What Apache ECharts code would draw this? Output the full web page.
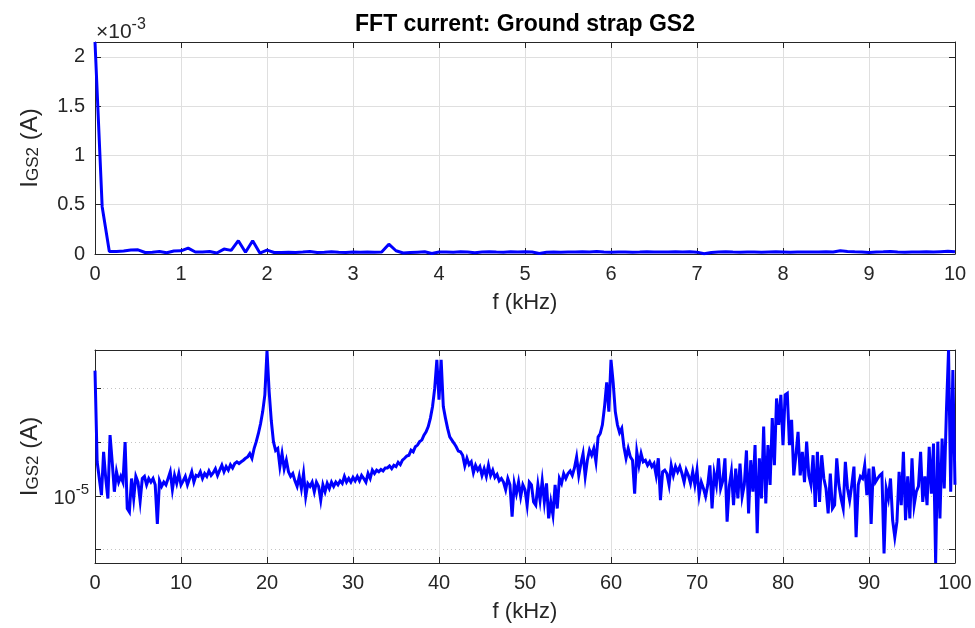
<!DOCTYPE html>
<html><head><meta charset="utf-8">
<script src="https://cdn.jsdelivr.net/npm/echarts@6/dist/echarts.min.js"></script>
<style>html,body{margin:0;padding:0;background:#fff}#c{width:975px;height:628px}</style>
</head><body><div id="c"></div>
<script>
// ---- data ----
const chartTitle = 'FFT current: Ground strap GS2';
const topStepKHz = 1 / 12;
const topCurrent = [
 2.15e-3,4.8e-4,2.5e-5,2.5e-5,3.0e-5,4.0e-5,4.2e-5,1.5e-5,1.8e-5,2.5e-5,
 1.3e-5,3.0e-5,3.2e-5,6.0e-5,2.0e-5,2.0e-5,2.5e-5,1.0e-5,5.0e-5,3.7e-5,
 1.35e-4,1.7e-5,1.35e-4,1.0e-5,4.0e-5,1.5e-5,1.6e-5,1.8e-5,1.5e-5,2.0e-5,
 2.6e-5,1.6e-5,1.8e-5,2.2e-5,1.8e-5,1.6e-5,2.0e-5,1.8e-5,2.0e-5,1.8e-5,
 2.0e-5,1.0e-4,3.3e-5,1.0e-5,1.4e-5,1.8e-5,2.2e-5,5.0e-6,2.0e-5,2.1e-5,
 1.9e-5,2.2e-5,2.0e-5,1.2e-5,2.0e-5,2.4e-5,2.1e-5,1.9e-5,2.2e-5,2.0e-5,
 2.2e-5,2.0e-5,6.0e-6,1.8e-5,2.0e-5,1.9e-5,2.1e-5,2.0e-5,2.2e-5,2.0e-5,
 2.6e-5,2.0e-5,1.8e-5,2.0e-5,2.1e-5,1.9e-5,2.0e-5,2.2e-5,2.0e-5,2.1e-5,
 2.0e-5,2.3e-5,2.0e-5,2.2e-5,1.9e-5,2.0e-6,1.6e-5,2.1e-5,2.3e-5,2.0e-5,
 1.9e-5,2.1e-5,2.0e-5,1.8e-5,2.0e-5,2.2e-5,2.0e-5,1.8e-5,2.1e-5,2.0e-5,
 2.1e-5,2.0e-5,2.2e-5,2.0e-5,3.3e-5,2.5e-5,2.2e-5,2.0e-5,1.6e-5,2.0e-5,
 2.2e-5,2.5e-5,2.0e-5,1.8e-5,2.1e-5,2.0e-5,2.2e-5,2.0e-5,2.4e-5,2.8e-5,
 2.2e-5
];
const bottomStepKHz = 0.25;
const bottomCurrent = [
 2.15e-3,4.3e-5,2.1e-5,1.03e-5,6.6e-5,2.1e-5,8.9e-6,1.35e-4,4.3e-5,1.19e-5,
 2.8e-5,1.8e-5,2.3e-5,1.8e-5,1.0e-4,5.8e-6,5.0e-6,2.1e-5,8.9e-6,2.3e-5,
 1.8e-5,8.0e-6,2.1e-5,2.3e-5,1.6e-5,2.1e-5,1.8e-5,2.1e-5,1.6e-5,3.0e-6,
 1.9e-5,1.5e-5,1.8e-5,1.6e-5,2.1e-5,2.8e-5,1.3e-5,2.4e-5,1.7e-5,2.6e-5,
 1.6e-5,
 1.9e-5,2.3e-5,1.6e-5,2.1e-5,2.8e-5,1.8e-5,2.4e-5,2.3e-5,2.8e-5,2.1e-5,
 2.6e-5,2.3e-5,2.9e-5,2.4e-5,2.7e-5,3.2e-5,2.4e-5,3.0e-5,3.7e-5,2.8e-5,
 3.5e-5,3.0e-5,3.8e-5,3.3e-5,4.0e-5,4.3e-5,4.0e-5,4.3e-5,4.6e-5,5.0e-5,
 5.3e-5,6.1e-5,5.0e-5,7.6e-5,1.02e-4,1.45e-4,2.2e-4,3.7e-4,7.6e-4,5.0e-3,
 8.7e-4,2.5e-4,1.02e-4,7.0e-5,7.6e-5,3.5e-5,6.1e-5,3.2e-5,4.6e-5,2.8e-5,
 2.3e-5,2.6e-5,1.9e-5,1.5e-5,2.3e-5,1.37e-5,2.6e-5,9.7e-6,1.7e-5,1.5e-5,
 1.8e-5,1.19e-5,1.8e-5,1.5e-5,8.3e-6,1.6e-5,1.19e-5,1.7e-5,1.37e-5,1.8e-5,
 1.5e-5,1.8e-5,1.6e-5,1.9e-5,1.7e-5,2.3e-5,1.8e-5,2.1e-5,1.8e-5,2.2e-5,
 1.9e-5,2.3e-5,1.9e-5,2.4e-5,2.1e-5,1.8e-5,2.6e-5,2.1e-5,3.0e-5,2.6e-5,
 3.0e-5,2.8e-5,3.1e-5,2.9e-5,3.3e-5,3.3e-5,3.6e-5,3.2e-5,3.7e-5,3.5e-5,
 4.2e-5,3.8e-5,4.6e-5,5.0e-5,5.5e-5,5.7e-5,7.1e-5,6.6e-5,8.2e-5,8.8e-5,
 1.02e-4,1.09e-4,1.35e-4,1.55e-4,1.95e-4,2.8e-4,4.6e-4,1.0e-3,3.4e-3,6.2e-4,
 3.4e-3,4.6e-4,2.8e-4,1.8e-4,1.25e-4,1.09e-4,9.5e-5,8.2e-5,6.8e-5,6.6e-5,
 5.7e-5,3.6e-5,5.0e-5,3.8e-5,4.3e-5,2.7e-5,3.7e-5,3.0e-5,3.5e-5,2.4e-5,
 3.2e-5,2.3e-5,3.7e-5,2.4e-5,3.0e-5,2.2e-5,2.5e-5,1.9e-5,2.1e-5,1.8e-5,
 1.3e-5,2.1e-5,1.6e-5,4.1e-6,1.7e-5,1.1e-5,1.8e-5,9.7e-6,1.6e-5,1.3e-5,
 6.7e-6,1.8e-5,1.6e-5,7.7e-6,6.7e-6,1.6e-5,8.3e-6,1.9e-5,7.7e-6,1.7e-5,
 3.8e-6,7.7e-6,4.4e-6,1.6e-5,5.8e-6,2.1e-5,1.7e-5,2.6e-5,2.1e-5,2.6e-5,
 2.9e-5,2.4e-5,3.3e-5,5.3e-5,2.4e-5,4.0e-5,6.1e-5,2.3e-5,4.6e-5,7.1e-5,
 5.7e-5,7.6e-5,4.3e-5,1.25e-4,1.45e-4,2.1e-4,4.6e-4,1.3e-3,3.7e-4,3.4e-3,
 1.3e-3,3.7e-4,2.1e-4,1.5e-4,1.8e-4,8.2e-5,5.0e-5,7.6e-5,5.3e-5,4.6e-5,
 1.1e-5,6.6e-5,3.7e-5,6.1e-5,4.3e-5,4.6e-5,3.7e-5,4.3e-5,3.5e-5,4.0e-5,
 2.4e-5,5.0e-5,8.3e-6,2.8e-5,3.0e-5,2.6e-5,1.6e-5,3.7e-5,2.4e-5,3.5e-5,
 2.8e-5,3.5e-5,2.6e-5,1.8e-5,3.0e-5,2.4e-5,1.7e-5,2.8e-5,1.6e-5,3.0e-5,
 1.03e-5,1.8e-5,1.37e-5,9.7e-6,1.6e-5,3.7e-5,5.8e-6,2.6e-5,1.6e-5,5.0e-5,
 1.37e-5,1.9e-5,5.0e-5,3.3e-6,1.5e-5,2.8e-5,6.7e-6,3.2e-5,8.9e-6,4.0e-5,
 9.7e-6,1.6e-5,7.0e-5,4.7e-6,4.6e-5,1.19e-5,8.8e-5,2.0e-6,5.0e-5,8.9e-6,
 1.95e-4,7.2e-6,8.8e-5,1.6e-5,2.8e-4,3.7e-5,6.5e-4,2.1e-4,7.6e-4,8.8e-5,
 7.6e-4,8.1e-4,8.8e-5,2.6e-4,2.4e-5,5.7e-5,1.55e-4,2.4e-5,6.6e-5,1.8e-5,
 1.02e-4,2.4e-5,1.6e-5,5.7e-5,6.2e-6,6.6e-5,7.7e-6,5.7e-5,2.1e-5,1.37e-5,
 4.7e-6,2.6e-5,5.8e-6,6.7e-6,5.0e-5,1.6e-5,8.9e-6,5.8e-6,4.3e-5,1.37e-5,
 8.3e-6,1.6e-5,3.5e-5,1.7e-6,1.6e-5,2.3e-5,2.1e-5,3.7e-5,1.03e-5,3.2e-5,
 3.0e-6,3.5e-5,1.8e-5,2.1e-5,2.4e-5,2.6e-5,8.4e-7,1.37e-5,8.9e-6,2.1e-5,
 3.5e-6,1.7e-6,3.3e-6,2.8e-5,6.7e-6,6.6e-5,3.5e-6,2.3e-5,3.8e-6,5.0e-5,
 6.7e-6,1.19e-5,1.5e-5,6.6e-5,7.7e-6,2.3e-5,6.7e-6,8.2e-5,1.1e-5,9.4e-5,
 5.6e-7,1.02e-4,3.8e-6,1.17e-4,1.37e-5,3.7e-4,5.2e-3,1.19e-5,2.2e-3,1.6e-5
];
const topXRange = [0, 10];
const bottomXRange = [0, 100];
const topYRange = [0, 2.15e-3];
const bottomYRange = [5.6e-7, 5.2e-3];
const majorLogTick = 1e-5;

// ---- chart ----
const FONT = "'Liberation Sans', Arial, sans-serif";
const AX = '#262626';
const GRIDC = '#dfdfdf';
const LINE_W = 3;
const chart = echarts.init(document.getElementById('c'), null, {renderer: 'canvas'});

function xAxisMain(gi, range, interval) {
  return {
    type: 'value', gridIndex: gi, min: range[0], max: range[1], interval: interval,
    position: 'bottom',
    axisLine: {show: true, onZero: false, lineStyle: {color: AX, width: 1}},
    axisTick: {show: true, inside: true, length: 6, lineStyle: {color: AX, width: 1}},
    axisLabel: {color: AX, fontSize: 20, fontFamily: FONT, margin: 10},
    splitLine: {show: true, lineStyle: {color: GRIDC, width: 1}},
    name: 'f (kHz)', nameLocation: 'middle', nameGap: 38,
    nameTextStyle: {color: AX, fontSize: 22, fontFamily: FONT}
  };
}
function xAxisMirror(gi, range, interval) {
  return {
    type: 'value', gridIndex: gi, min: range[0], max: range[1], interval: interval,
    position: 'top',
    axisLine: {show: true, onZero: false, lineStyle: {color: AX, width: 1}},
    axisTick: {show: true, inside: true, length: 6, lineStyle: {color: AX, width: 1}},
    axisLabel: {show: false}, splitLine: {show: false}
  };
}
const yName = {
  name: '{m|I}{s|GS2}{m| (A)}', nameLocation: 'middle', nameGap: 53,
  nameTextStyle: {color: AX, fontSize: 23, fontFamily: FONT,
    rich: {
      m: {fontSize: 24, fontFamily: FONT, color: AX, lineHeight: 28, verticalAlign: 'bottom'},
      s: {fontSize: 17, fontFamily: FONT, color: AX, lineHeight: 10, verticalAlign: 'bottom'}
    }}
};

const option = {
  animation: false,
  backgroundColor: '#ffffff',
  grid: [
    {left: 95, right: 20, top: 42, height: 212, containLabel: false},
    {left: 95, right: 20, top: 350, height: 213, containLabel: false}
  ],
  graphic: [
    {type: 'text', x: 525, y: 25,
     style: {text: chartTitle, align: 'center', verticalAlign: 'middle',
       fontSize: 23, fontWeight: 'bold', fontFamily: FONT, fill: '#000'}},
    {type: 'text', x: 96, y: 30,
     style: {text: '{b|×10}{sup|-3}', align: 'left', verticalAlign: 'middle',
       fontSize: 20, fontFamily: FONT, fill: AX,
       rich: {
         b: {fontSize: 21, fontFamily: FONT, fill: AX, lineHeight: 26, verticalAlign: 'bottom'},
         sup: {fontSize: 16, fontFamily: FONT, fill: AX, lineHeight: 12, verticalAlign: 'top'}
       }}}
  ],
  xAxis: [
    xAxisMain(0, topXRange, 1), xAxisMirror(0, topXRange, 1),
    xAxisMain(1, bottomXRange, 10), xAxisMirror(1, bottomXRange, 10)
  ],
  yAxis: [
    Object.assign({
      type: 'value', gridIndex: 0, min: topYRange[0], max: topYRange[1], interval: 0.0005,
      position: 'left',
      axisLine: {show: true, onZero: false, lineStyle: {color: AX, width: 1}},
      axisTick: {show: true, inside: true, length: 6, lineStyle: {color: AX, width: 1}},
      axisLabel: {color: AX, fontSize: 20, fontFamily: FONT, margin: 10, showMaxLabel: false,
        formatter: v => (v > topYRange[1] - 1e-9) ? '' : String(+(v * 1000).toFixed(2))},
      splitLine: {show: true, lineStyle: {color: GRIDC, width: 1}}
    }, yName),
    {
      type: 'value', gridIndex: 0, min: topYRange[0], max: topYRange[1], interval: 0.0005,
      position: 'right',
      axisLine: {show: true, onZero: false, lineStyle: {color: AX, width: 1}},
      axisTick: {show: true, inside: true, length: 6, lineStyle: {color: AX, width: 1}},
      axisLabel: {show: false}, splitLine: {show: false}
    },
    Object.assign({
      type: 'log', logBase: 10, gridIndex: 1, min: bottomYRange[0], max: bottomYRange[1],
      position: 'left',
      axisLine: {show: true, onZero: false, lineStyle: {color: AX, width: 1}},
      axisTick: {show: true, inside: true, length: 6, lineStyle: {color: AX, width: 1}},
      axisLabel: {color: AX, fontSize: 20, fontFamily: FONT, margin: 6,
        showMinLabel: false, showMaxLabel: false,
        formatter: v => (Math.abs(Math.log10(v) - Math.log10(majorLogTick)) < 1e-6) ? '{b|10}{sup|-5}' : '',
        rich: {
          b: {fontSize: 20, fontFamily: FONT, color: AX, lineHeight: 26, verticalAlign: 'bottom'},
          sup: {fontSize: 15, fontFamily: FONT, color: AX, lineHeight: 12, verticalAlign: 'top'}
        }},
      splitLine: {show: true, lineStyle: {color: '#c4c4c4', width: 1, type: [1, 3]}}
    }, yName),
    {
      type: 'log', logBase: 10, gridIndex: 1, min: bottomYRange[0], max: bottomYRange[1],
      position: 'right',
      axisLine: {show: true, onZero: false, lineStyle: {color: AX, width: 1}},
      axisTick: {show: true, inside: true, length: 6, lineStyle: {color: AX, width: 1}},
      axisLabel: {show: false}, splitLine: {show: false}
    }
  ],
  series: [
    {
      type: 'line', xAxisIndex: 0, yAxisIndex: 0, showSymbol: false, clip: true, z: 3,
      data: topCurrent.map((v, i) => [i * topStepKHz, v]),
      lineStyle: {color: '#0000ff', width: LINE_W}, itemStyle: {color: '#0000ff'}
    },
    {
      type: 'line', xAxisIndex: 2, yAxisIndex: 2, data: [[bottomXRange[0], majorLogTick]],
      z: 1, silent: true, showSymbol: false, lineStyle: {opacity: 0},
      markLine: {silent: true, symbol: 'none', label: {show: false}, animation: false,
        lineStyle: {color: '#d6d6d6', type: 'solid', width: 1.5},
        data: [{yAxis: majorLogTick}]}
    },
    {
      type: 'line', xAxisIndex: 2, yAxisIndex: 2, showSymbol: false, clip: true, z: 3,
      data: bottomCurrent.map((v, i) => [i * bottomStepKHz, v]),
      lineStyle: {color: '#0000ff', width: LINE_W, join: 'miter'}, itemStyle: {color: '#0000ff'}
    }
  ]
};
chart.setOption(option);
</script>
</body></html>
